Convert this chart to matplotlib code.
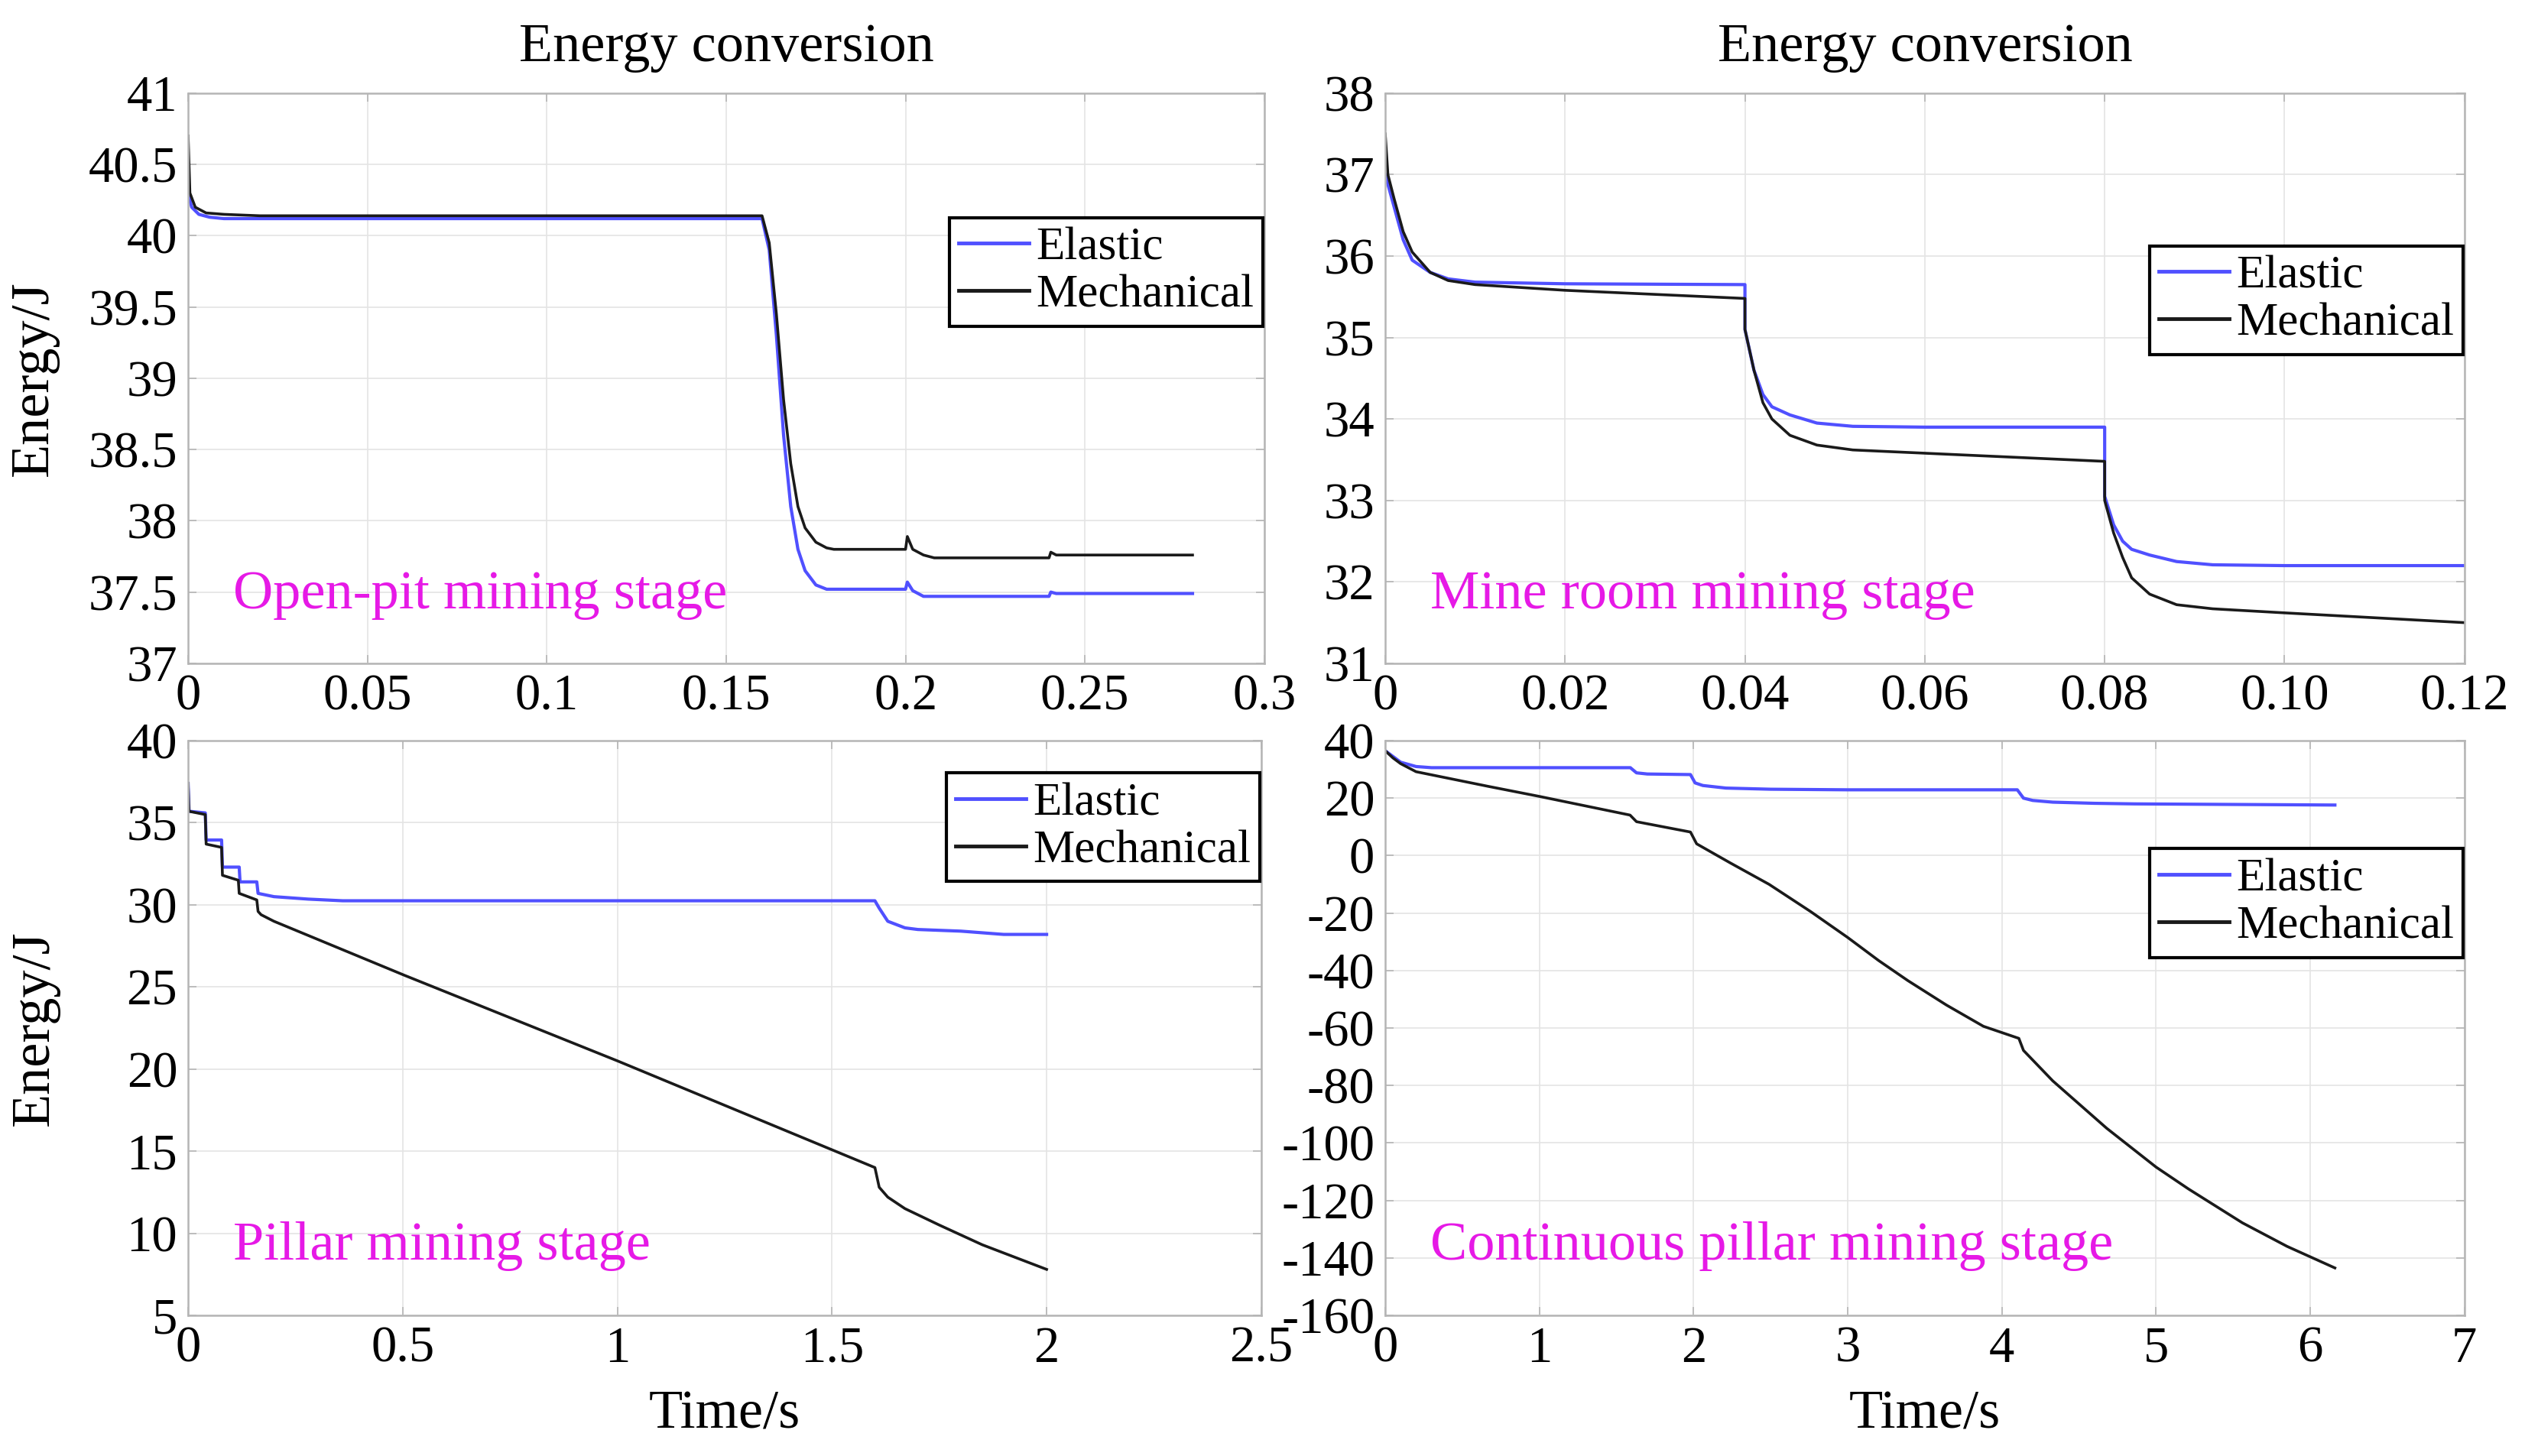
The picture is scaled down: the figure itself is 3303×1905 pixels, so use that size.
import matplotlib
matplotlib.use('Agg')
import matplotlib.pyplot as plt

# ---- data ----
# top left: open-pit mining stage
t_open_el = [0, 0.001, 0.003, 0.006, 0.01, 0.16, 0.162, 0.164, 0.166, 0.168, 0.17, 0.172, 0.175, 0.178,
             0.2, 0.2005, 0.202, 0.205, 0.24, 0.2405, 0.242, 0.28]
e_open_el = [40.3, 40.2, 40.15, 40.13, 40.12, 40.12, 39.9, 39.3, 38.6, 38.1, 37.8, 37.65, 37.55, 37.52,
             37.52, 37.57, 37.51, 37.47, 37.47, 37.5, 37.49, 37.49]
t_open_me = [0, 0.0005, 0.002, 0.005, 0.01, 0.02, 0.16, 0.162, 0.164, 0.166, 0.168, 0.17, 0.172, 0.175,
             0.178, 0.18, 0.2, 0.2005, 0.202, 0.205, 0.208, 0.24, 0.2405, 0.242, 0.28]
e_open_me = [40.7, 40.3, 40.2, 40.16, 40.15, 40.14, 40.14, 39.95, 39.45, 38.85, 38.4, 38.1, 37.95, 37.85,
             37.81, 37.8, 37.8, 37.89, 37.8, 37.76, 37.74, 37.74, 37.78, 37.76, 37.76]

# top right: mine room mining stage
t_room_el = [0, 0.001, 0.002, 0.003, 0.005, 0.007, 0.01, 0.02, 0.04, 0.04, 0.041, 0.042, 0.043, 0.045,
             0.048, 0.052, 0.06, 0.08, 0.08, 0.081, 0.082, 0.083, 0.085, 0.088, 0.092, 0.1, 0.12]
e_room_el = [37.0, 36.6, 36.2, 35.95, 35.8, 35.72, 35.68, 35.66, 35.65, 35.1, 34.6, 34.3, 34.15, 34.05,
             33.95, 33.91, 33.9, 33.9, 33.05, 32.7, 32.5, 32.4, 32.33, 32.25, 32.21, 32.2, 32.2]
t_room_me = [0, 0.0003, 0.001, 0.002, 0.003, 0.005, 0.007, 0.01, 0.02, 0.03, 0.04, 0.04, 0.041, 0.042,
             0.043, 0.045, 0.048, 0.052, 0.06, 0.07, 0.08, 0.08, 0.081, 0.082, 0.083, 0.085, 0.088,
             0.092, 0.1, 0.11, 0.12]
e_room_me = [37.5, 37.0, 36.7, 36.3, 36.05, 35.8, 35.7, 35.65, 35.58, 35.53, 35.48, 35.1, 34.6, 34.2,
             34.0, 33.8, 33.68, 33.62, 33.58, 33.53, 33.48, 33.0, 32.6, 32.3, 32.05, 31.85, 31.72,
             31.67, 31.62, 31.56, 31.5]

# bottom left: pillar mining stage
t_pil_el = [0, 0.002, 0.04, 0.042, 0.078, 0.08, 0.119, 0.121, 0.16, 0.163, 0.2, 0.28, 0.36, 1.6, 1.61,
            1.63, 1.67, 1.7, 1.8, 1.9, 2.0]
e_pil_el = [37.4, 35.7, 35.6, 33.95, 33.95, 32.3, 32.3, 31.4, 31.4, 30.7, 30.5, 30.35, 30.25, 30.25,
            29.8, 29.0, 28.6, 28.5, 28.4, 28.2, 28.2]
t_pil_me = [0, 0.002, 0.04, 0.042, 0.078, 0.08, 0.117, 0.119, 0.16, 0.163, 0.17, 0.2, 0.505, 1.0,
            1.6, 1.61, 1.63, 1.67, 1.75, 1.85, 2.0]
e_pil_me = [37.4, 35.7, 35.5, 33.7, 33.5, 31.8, 31.5, 30.7, 30.3, 29.6, 29.4, 29.0, 25.7, 20.5,
            14.0, 12.8, 12.2, 11.5, 10.5, 9.3, 7.8]

# bottom right: continuous pillar mining stage
t_con_el = [0, 0.05, 0.1, 0.2, 0.3, 1.59, 1.63, 1.7, 1.98, 2.01, 2.06, 2.21, 2.5, 3.0, 4.1, 4.14, 4.2,
            4.33, 4.6, 4.86, 6.16]
e_con_el = [36.5, 34.5, 32.5, 31.0, 30.6, 30.6, 28.8, 28.4, 28.2, 25.3, 24.4, 23.5, 23.1, 22.9, 22.9,
            20.0, 19.2, 18.6, 18.2, 18.0, 17.6]
t_con_me = [0, 0.05, 0.1, 0.2, 0.668, 1.0, 1.588, 1.63, 1.98, 2.02, 2.24, 2.49, 2.76, 3.0, 3.2, 3.39,
            3.64, 3.88, 4.11, 4.14, 4.33, 4.68, 5.0, 5.21, 5.56, 5.85, 6.16]
e_con_me = [36.5, 34.0, 32.0, 29.2, 24.1, 20.6, 14.1, 11.8, 8.2, 4.1, -2.6, -10.0, -19.5, -28.5, -36.5,
            -43.5, -52.0, -59.4, -63.6, -67.8, -78.4, -94.9, -108.4, -116.0, -127.8, -136.0, -143.5]

# ticks
xt_open = [0, 0.05, 0.1, 0.15, 0.2, 0.25, 0.3]
xl_open = ['0', '0.05', '0.1', '0.15', '0.2', '0.25', '0.3']
yt_open = [37, 37.5, 38, 38.5, 39, 39.5, 40, 40.5, 41]
yl_open = ['37', '37.5', '38', '38.5', '39', '39.5', '40', '40.5', '41']
xt_room = [0, 0.02, 0.04, 0.06, 0.08, 0.10, 0.12]
xl_room = ['0', '0.02', '0.04', '0.06', '0.08', '0.10', '0.12']
yt_room = [31, 32, 33, 34, 35, 36, 37, 38]
xt_pil = [0, 0.5, 1, 1.5, 2, 2.5]
xl_pil = ['0', '0.5', '1', '1.5', '2', '2.5']
yt_pil = [5, 10, 15, 20, 25, 30, 35, 40]
xt_con = [0, 1, 2, 3, 4, 5, 6, 7]
yt_con = [40, 20, 0, -20, -40, -60, -80, -100, -120, -140, -160]

plt.rcParams['font.family'] = ['Liberation Serif', 'DejaVu Serif']
plt.rcParams['axes.unicode_minus'] = False

FS = 48      # tick labels
FS_T = 52    # titles, axis labels, stage labels
BLUE = '#5050ff'
BLACK = '#1a1a1a'

fig = plt.figure(figsize=(33.03, 19.05), dpi=100)
ax_tl = fig.add_axes([0.0745, 0.5444, 0.4262, 0.3916])
ax_tr = fig.add_axes([0.5486, 0.5444, 0.4274, 0.3916])
ax_bl = fig.add_axes([0.0745, 0.0966, 0.4250, 0.3947])
ax_br = fig.add_axes([0.5486, 0.0966, 0.4274, 0.3947])


def style(ax, t_el, e_el, t_me, e_me, xt, xl, yt, yl, label, leg_top):
    ax.plot(t_el, e_el, color=BLUE, lw=3.0, label='Elastic')
    ax.plot(t_me, e_me, color=BLACK, lw=2.6, label='Mechanical')
    ax.set_xlim(xt[0], xt[-1])
    ax.set_ylim(min(yt), max(yt))
    ax.set_xticks(xt)
    ax.set_xticklabels(xl)
    ax.set_yticks(yt)
    ax.set_yticklabels(yl)
    ax.grid(True, color='#e4e4e4', lw=1.2)
    ax.set_axisbelow(True)
    for s in ax.spines.values():
        s.set_color('#b5b5b5')
        s.set_linewidth(1.8)
    ax.tick_params(direction='in', top=True, right=True, length=8, width=1.2, color='#b5b5b5',
                   labelsize=FS, labelcolor='black', pad=10)
    ax.text(0.042, 0.12, label, transform=ax.transAxes, color='#e619e6', fontsize=FS_T, va='center')
    leg = ax.legend(loc='upper right', bbox_to_anchor=(0.999, leg_top), fontsize=FS - 4,
                    handlelength=1.5, handletextpad=0.15, borderpad=0.2, labelspacing=0.1,
                    borderaxespad=0, fancybox=False, framealpha=1)
    leg.get_frame().set_edgecolor('black')
    leg.get_frame().set_linewidth(3)
    for h in leg.get_lines():
        h.set_linewidth(3.5)


style(ax_tl, t_open_el, e_open_el, t_open_me, e_open_me, xt_open, xl_open, yt_open, yl_open,
      'Open-pit mining stage', 0.782)
style(ax_tr, t_room_el, e_room_el, t_room_me, e_room_me, xt_room, xl_room, yt_room,
      [str(v) for v in yt_room], 'Mine room mining stage', 0.732)
style(ax_bl, t_pil_el, e_pil_el, t_pil_me, e_pil_me, xt_pil, xl_pil, yt_pil,
      [str(v) for v in yt_pil], 'Pillar mining stage', 0.944)
style(ax_br, t_con_el, e_con_el, t_con_me, e_con_me, xt_con, [str(v) for v in xt_con], yt_con,
      [str(v) for v in yt_con], 'Continuous pillar mining stage', 0.812)

ax_tl.set_title('Energy conversion', fontsize=FS_T, pad=30)
ax_tr.set_title('Energy conversion', fontsize=FS_T, pad=30)
ax_tl.set_ylabel('Energy/J', fontsize=FS_T)
ax_bl.set_ylabel('Energy/J', fontsize=FS_T)
ax_tl.yaxis.set_label_coords(-0.12, 0.5)
ax_bl.yaxis.set_label_coords(-0.12, 0.5)
ax_bl.set_xlabel('Time/s', fontsize=FS_T, labelpad=16)
ax_br.set_xlabel('Time/s', fontsize=FS_T, labelpad=16)

fig.savefig('out.png', dpi=100, facecolor='white')
